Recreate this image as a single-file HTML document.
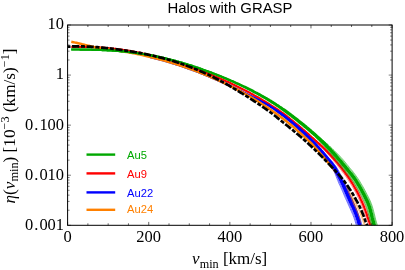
<!DOCTYPE html>
<html><head><meta charset="utf-8"><title>Halos with GRASP</title>
<style>html,body{margin:0;padding:0;background:#fff}svg{display:block}</style></head>
<body>
<svg width="405" height="270" viewBox="0 0 405 270">
<rect width="405" height="270" fill="#fff"/>
<defs><clipPath id="c"><rect x="67.6" y="25.0" width="324.5" height="200.3"/></clipPath></defs>
<g clip-path="url(#c)" fill="none" stroke-linejoin="round">
<path d="M332.6,168.0 L333.6,169.2 L334.6,170.4 L335.5,171.7 L336.4,173.0 L337.4,174.3 L338.3,175.6 L339.2,176.9 L340.0,178.4 L340.9,179.8 L341.7,181.2 L342.5,182.7 L343.3,184.2 L344.0,185.7 L344.8,187.2 L345.7,188.7 L346.6,190.2 L347.5,191.7 L348.3,193.3 L349.2,194.9 L350.0,196.5 L350.9,198.2 L351.7,199.8 L352.5,201.6 L353.3,203.4 L354.1,205.2 L354.8,207.1 L355.6,209.0 L356.3,210.9 L357.0,212.8 L357.7,214.9 L358.3,217.0 L358.9,219.1 L359.6,221.4 L360.3,224.0 L361.1,226.5 L362.0,229.0 L362.9,231.5 L363.8,234.1 L364.6,236.9" stroke="#ff8000" stroke-width="2.40"/>
<path d="M326.3,161.4 L327.3,162.5 L328.3,163.7 L329.2,164.9 L330.2,166.0 L331.2,167.2 L332.1,168.4 L333.1,169.6 L334.1,170.8 L335.1,172.0 L336.1,173.2 L337.1,174.5 L338.1,175.7 L339.1,177.0 L340.1,178.3 L341.0,179.6 L342.0,181.0 L343.0,182.3 L344.0,183.6 L345.0,185.0 L346.0,186.4 L347.0,187.8 L348.0,189.3 L348.9,190.8 L349.9,192.3 L350.9,193.9 L351.8,195.5 L352.7,197.1 L353.7,198.7 L354.6,200.4 L355.6,202.2 L356.5,203.9 L357.4,205.8 L358.3,207.6 L359.2,209.5 L360.1,211.5 L361.0,213.5 L361.8,215.6 L362.6,217.8 L363.4,220.1 L364.2,222.5 L365.2,224.9 L366.2,227.3 L367.2,229.8 L368.1,232.5 L369.1,235.3" stroke="#ff8000" stroke-width="0.50"/>
<path d="M326.3,161.5 L327.2,162.6 L328.1,163.8 L329.1,165.0 L330.0,166.2 L331.0,167.4 L331.9,168.6 L332.9,169.9 L333.8,171.1 L334.8,172.3 L335.7,173.6 L336.7,174.9 L337.6,176.2 L338.6,177.5 L339.5,178.8 L340.5,180.1 L341.4,181.5 L342.4,182.8 L343.4,184.1 L344.4,185.5 L345.4,186.8 L346.3,188.3 L347.3,189.7 L348.3,191.2 L349.2,192.7 L350.2,194.3 L351.1,195.9 L352.1,197.5 L353.0,199.1 L353.9,200.8 L354.9,202.5 L355.8,204.3 L356.7,206.1 L357.6,208.0 L358.5,209.9 L359.4,211.8 L360.2,213.8 L361.0,215.9 L361.8,218.1 L362.6,220.3 L363.4,222.8 L364.4,225.2 L365.4,227.6 L366.4,230.1 L367.4,232.8 L368.4,235.5" stroke="#ff8000" stroke-width="0.50"/>
<path d="M300.1,127.1 L301.1,127.9 L302.1,128.8 L303.0,129.7 L304.0,130.6 L305.0,131.4 L305.9,132.3 L306.9,133.2 L307.8,134.1 L308.8,135.1 L309.8,136.0 L310.7,136.9 L311.7,137.9 L312.7,138.8 L313.7,139.7 L314.7,140.7 L315.7,141.6 L316.7,142.6 L317.7,143.5 L318.7,144.5 L319.7,145.5 L320.7,146.5 L321.7,147.5 L322.7,148.5 L323.7,149.5 L324.6,150.6 L325.6,151.6 L326.6,152.7 L327.6,153.8 L328.6,154.9 L329.6,156.0 L330.6,157.1 L331.6,158.3 L332.6,159.4 L333.5,160.6 L334.5,161.8 L335.5,163.0 L336.5,164.2 L337.5,165.5 L338.5,166.8 L339.5,168.0 L340.5,169.3 L341.5,170.6 L342.5,172.0 L343.6,173.3 L344.6,174.7 L345.6,176.1 L346.6,177.6 L347.6,179.0 L348.6,180.6 L349.6,182.1 L350.6,183.7 L351.6,185.4 L352.6,187.0 L353.6,188.8 L354.6,190.6 L355.6,192.4 L356.6,194.3 L357.5,196.2 L358.5,198.3 L359.5,200.3 L360.5,202.5 L361.4,204.7 L362.4,207.1 L363.3,209.5 L364.2,212.1 L365.2,214.8 L366.1,217.6 L367.1,220.5 L368.1,223.7 L369.2,226.9 L370.2,230.5 L371.1,234.3" stroke="#ff0000" stroke-width="0.50"/>
<path d="M300.2,127.1 L301.2,127.9 L302.2,128.7 L303.2,129.5 L304.2,130.3 L305.2,131.1 L306.2,132.0 L307.3,132.8 L308.3,133.7 L309.3,134.5 L310.3,135.4 L311.3,136.3 L312.4,137.1 L313.4,138.0 L314.4,138.9 L315.5,139.8 L316.5,140.6 L317.6,141.5 L318.7,142.4 L319.7,143.4 L320.8,144.3 L321.8,145.2 L322.9,146.2 L324.0,147.1 L325.0,148.1 L326.1,149.1 L327.1,150.1 L328.2,151.2 L329.2,152.2 L330.3,153.3 L331.4,154.3 L332.4,155.4 L333.5,156.5 L334.6,157.6 L335.6,158.8 L336.7,159.9 L337.7,161.1 L338.8,162.3 L339.9,163.5 L340.9,164.8 L342.0,166.0 L343.0,167.3 L344.0,168.7 L345.1,170.0 L346.1,171.4 L347.2,172.8 L348.2,174.3 L349.3,175.7 L350.3,177.3 L351.3,178.8 L352.3,180.4 L353.4,182.0 L354.4,183.7 L355.4,185.4 L356.4,187.2 L357.4,189.0 L358.4,190.9 L359.4,192.8 L360.4,194.8 L361.4,196.9 L362.4,199.0 L363.4,201.2 L364.4,203.5 L365.4,205.9 L366.3,208.4 L367.2,211.0 L368.2,213.7 L369.2,216.6 L370.2,219.5 L371.2,222.7 L372.2,226.0 L373.2,229.6 L374.2,233.5" stroke="#ff0000" stroke-width="0.50"/>
<path d="M71.3,46.8 L72.3,46.8 L73.3,46.8 L74.3,46.8 L75.3,46.8 L76.3,46.7 L77.3,46.7 L78.3,46.8 L79.3,46.8 L80.3,46.8 L81.3,46.8 L82.3,46.8 L83.3,46.8 L84.3,46.8 L85.3,46.8 L86.3,46.9 L87.3,46.9 L88.3,46.9 L89.3,47.0 L90.3,47.0 L91.3,47.0 L92.3,47.1 L93.3,47.1 L94.3,47.2 L95.3,47.2 L96.3,47.3 L97.3,47.3 L98.3,47.4 L99.3,47.4 L100.3,47.5 L101.3,47.6 L102.3,47.7 L103.3,47.7 L104.3,47.8 L105.3,47.9 L106.3,48.0 L107.3,48.1 L108.3,48.2 L109.3,48.3 L110.3,48.4 L111.3,48.5 L112.3,48.6 L113.3,48.7 L114.3,48.8 L115.3,48.9 L116.3,49.0 L117.4,49.2 L118.4,49.3 L119.4,49.4 L120.4,49.6 L121.4,49.7 L122.4,49.8 L123.4,50.0 L124.4,50.1 L125.4,50.3 L126.4,50.4 L127.4,50.6 L128.4,50.8 L129.4,50.9 L130.4,51.1 L131.4,51.3 L132.4,51.4 L133.4,51.6 L134.4,51.8 L135.4,52.0 L136.4,52.2 L137.4,52.3 L138.4,52.5 L139.4,52.7 L140.4,52.9 L141.3,53.1 L142.3,53.3 L143.3,53.6 L144.3,53.8 L145.3,54.0 L146.3,54.2 L147.3,54.4 L148.3,54.7 L149.3,54.9 L150.3,55.1 L151.3,55.3 L152.3,55.6 L153.3,55.8 L154.3,56.1 L155.3,56.3 L156.3,56.6 L157.3,56.8 L158.3,57.1 L159.3,57.3 L160.3,57.6 L161.3,57.9 L162.3,58.1 L163.3,58.4 L164.3,58.7 L165.3,58.9 L166.3,59.2 L167.3,59.5 L168.3,59.8 L169.3,60.1 L170.3,60.4 L171.3,60.7 L172.2,61.0 L173.2,61.3 L174.2,61.6 L175.2,61.9 L176.2,62.2 L177.2,62.5 L178.2,62.8 L179.2,63.1 L180.2,63.4 L181.2,63.7 L182.2,64.1 L183.2,64.4 L184.2,64.7 L185.2,65.1 L186.2,65.4 L187.2,65.7 L188.2,66.1 L189.2,66.4 L190.2,66.8 L191.2,67.1 L192.2,67.5 L193.2,67.8 L194.2,68.2 L195.2,68.5 L196.2,68.9 L197.2,69.3 L198.2,69.6 L199.2,70.0 L200.2,70.4 L201.1,70.7 L202.1,71.1 L203.1,71.5 L204.1,71.9 L205.1,72.3 L206.1,72.7 L207.1,73.1 L208.1,73.5 L209.1,73.9 L210.1,74.3 L211.1,74.7 L212.1,75.1 L213.1,75.5 L214.1,75.9 L215.1,76.4 L216.1,76.8 L217.1,77.2 L218.1,77.6 L219.1,78.1 L220.1,78.5 L221.1,78.9 L222.2,79.4 L223.2,79.8 L224.2,80.3 L225.2,80.7 L226.2,81.2 L227.2,81.6 L228.2,82.1 L229.2,82.6 L230.2,83.0 L231.2,83.5 L232.2,84.0 L233.2,84.5 L234.2,84.9 L235.2,85.4 L236.2,85.9 L237.2,86.4 L238.2,86.9 L239.2,87.4 L240.2,87.9 L241.2,88.4 L242.2,88.9 L243.2,89.4 L244.3,90.0 L245.3,90.5 L246.3,91.0 L247.3,91.5 L248.3,92.1 L249.3,92.6 L250.3,93.1 L251.3,93.7 L252.3,94.2 L253.3,94.8 L254.3,95.4 L255.3,95.9 L256.3,96.5 L257.3,97.1 L258.4,97.6 L259.4,98.2 L260.4,98.8 L261.4,99.4 L262.4,100.0 L263.4,100.6 L264.4,101.2 L265.4,101.8 L266.4,102.4 L267.4,103.0 L268.4,103.7 L269.4,104.3 L270.4,104.9 L271.4,105.6 L272.4,106.2 L273.5,106.9 L274.5,107.5 L275.5,108.2 L276.5,108.8 L277.5,109.5 L278.5,110.2 L279.5,110.9 L280.5,111.6 L281.5,112.3 L282.5,113.0 L283.5,113.7 L284.5,114.4 L285.5,115.1 L286.5,115.9 L287.4,116.7 L288.4,117.5 L289.4,118.2 L290.3,119.0 L291.3,119.8 L292.3,120.6 L293.3,121.4 L294.2,122.2 L295.2,123.0 L296.2,123.8 L297.2,124.6 L298.2,125.4 L299.2,126.2 L300.2,127.1 L301.1,127.9 L302.1,128.7 L303.1,129.6 L304.1,130.4 L305.1,131.3 L306.1,132.2 L307.1,133.0 L308.1,133.9 L309.1,134.8 L310.0,135.7 L311.0,136.6 L312.0,137.5 L313.1,138.4 L314.1,139.3 L315.1,140.2 L316.1,141.1 L317.1,142.1 L318.2,143.0 L319.2,143.9 L320.2,144.9 L321.3,145.8 L322.3,146.8 L323.3,147.8 L324.3,148.8 L325.4,149.8 L326.4,150.9 L327.4,151.9 L328.4,153.0 L329.5,154.1 L330.5,155.2 L331.5,156.3 L332.5,157.4 L333.6,158.5 L334.6,159.7 L335.6,160.9 L336.6,162.1 L337.7,163.3 L338.7,164.5 L339.7,165.8 L340.7,167.0 L341.8,168.3 L342.8,169.7 L343.8,171.0 L344.9,172.4 L345.9,173.8 L346.9,175.2 L347.9,176.6 L349.0,178.1 L350.0,179.7 L351.0,181.3 L352.0,182.9 L353.0,184.5 L354.0,186.2 L355.0,188.0 L356.0,189.8 L357.0,191.6 L358.0,193.6 L359.0,195.5 L360.0,197.6 L360.9,199.7 L361.9,201.8 L362.9,204.1 L363.9,206.5 L364.8,209.0 L365.7,211.5 L366.7,214.2 L367.6,217.1 L368.6,220.0 L369.7,223.2 L370.7,226.5 L371.7,230.0 L372.7,233.9" stroke="#ff0000" stroke-width="2.20"/>
<path d="M318.5,147.2 L319.4,148.4 L320.2,149.6 L321.1,150.8 L322.0,152.1 L322.9,153.4 L323.8,154.7 L324.6,156.0 L325.5,157.3 L326.4,158.6 L327.4,160.0 L328.3,161.3 L329.2,162.7 L330.1,164.1 L331.0,165.5 L331.8,167.0 L332.7,168.5 L333.4,169.9 L334.1,171.5 L334.8,173.1 L335.5,174.8 L336.2,176.6 L336.9,178.4 L337.7,180.3 L338.4,182.1 L339.2,184.0 L340.1,185.8 L341.0,187.8 L341.9,189.8 L342.8,191.9 L343.7,194.0 L344.6,196.3 L345.6,198.5 L346.7,200.9 L347.8,203.4 L349.0,206.0 L350.2,208.7 L351.4,211.5 L352.7,214.4 L353.9,217.5 L355.0,220.8 L356.1,224.5 L357.2,228.4 L358.2,232.8 L359.1,237.8" stroke="#0000ff" stroke-width="0.55"/>
<path d="M318.5,147.1 L319.4,148.3 L320.3,149.5 L321.2,150.8 L322.1,152.0 L323.0,153.2 L324.0,154.5 L324.9,155.8 L325.8,157.1 L326.7,158.4 L327.7,159.7 L328.6,161.1 L329.6,162.4 L330.5,163.8 L331.4,165.2 L332.3,166.6 L333.2,168.1 L334.0,169.6 L334.8,171.1 L335.5,172.8 L336.2,174.5 L336.9,176.2 L337.7,178.0 L338.4,179.9 L339.2,181.7 L340.1,183.6 L340.9,185.5 L341.8,187.4 L342.7,189.4 L343.6,191.5 L344.5,193.7 L345.5,195.9 L346.5,198.2 L347.5,200.6 L348.6,203.1 L349.8,205.6 L351.0,208.3 L352.2,211.1 L353.5,214.1 L354.7,217.2 L355.9,220.6 L357.0,224.2 L358.0,228.2 L359.0,232.7 L360.0,237.6" stroke="#0000ff" stroke-width="0.55"/>
<path d="M318.6,147.1 L319.6,148.1 L320.7,149.2 L321.7,150.3 L322.8,151.4 L323.9,152.6 L324.9,153.7 L326.0,154.9 L327.0,156.0 L328.1,157.2 L329.2,158.4 L330.3,159.6 L331.5,160.9 L332.6,162.2 L333.7,163.5 L334.8,164.9 L335.9,166.3 L336.9,167.9 L337.9,169.5 L338.8,171.1 L339.7,172.8 L340.6,174.5 L341.5,176.2 L342.4,178.0 L343.3,179.8 L344.2,181.6 L345.1,183.6 L346.0,185.6 L346.9,187.6 L347.8,189.7 L348.7,191.9 L349.7,194.1 L350.7,196.4 L351.7,198.7 L352.8,201.2 L354.0,203.7 L355.2,206.4 L356.5,209.3 L357.7,212.3 L359.0,215.6 L360.3,219.1 L361.4,223.0 L362.5,227.2 L363.5,231.7 L364.5,236.7" stroke="#0000ff" stroke-width="0.55"/>
<path d="M150.4,57.0 L151.4,57.3 L152.4,57.5 L153.4,57.8 L154.4,58.0 L155.4,58.3 L156.4,58.5 L157.4,58.8 L158.4,59.1 L159.4,59.3 L160.4,59.6 L161.4,59.9 L162.4,60.1 L163.4,60.4 L164.4,60.7 L165.4,61.0 L166.3,61.2 L167.3,61.5 L168.3,61.8 L169.3,62.1 L170.3,62.4 L171.3,62.7 L172.3,63.0 L173.3,63.3 L174.3,63.6 L175.3,64.0 L176.3,64.3 L177.3,64.6 L178.3,64.9 L179.3,65.2 L180.2,65.6 L181.2,65.9 L182.2,66.2 L183.2,66.6 L184.2,66.9 L185.2,67.3 L186.2,67.6 L187.2,68.0 L188.2,68.3 L189.2,68.7 L190.2,69.0 L191.2,69.4 L192.1,69.7 L193.1,70.1 L194.1,70.5 L195.1,70.9 L196.1,71.2 L197.1,71.6 L198.1,72.0 L199.1,72.4 L200.1,72.8 L201.1,73.2 L202.1,73.5 L203.1,73.9 L204.1,74.3 L205.1,74.7 L206.1,75.2 L207.0,75.6 L208.0,76.0 L209.0,76.4 L210.0,76.8 L211.0,77.2 L212.0,77.7 L213.0,78.1 L214.0,78.5 L215.0,78.9 L216.0,79.4 L217.0,79.8 L218.0,80.3 L219.0,80.7 L220.0,81.1 L221.0,81.6 L222.0,82.1 L223.0,82.5 L224.0,83.0 L225.0,83.5 L226.0,83.9 L227.0,84.4 L228.0,84.9 L229.0,85.4 L230.0,85.9 L231.0,86.4 L232.1,86.9 L233.1,87.4 L234.1,87.9 L235.1,88.4 L236.1,88.9 L237.1,89.4 L238.1,89.9 L239.1,90.4 L240.1,90.8 L241.1,91.3 L242.1,91.8 L243.1,92.3 L244.1,92.8 L245.2,93.3 L246.2,93.8 L247.2,94.3 L248.2,94.8 L249.2,95.3 L250.2,95.8 L251.2,96.3 L252.2,96.8 L253.2,97.3 L254.3,97.8 L255.3,98.3 L256.3,98.9 L257.3,99.4 L258.3,99.9 L259.3,100.4 L260.3,100.9 L261.3,101.5 L262.4,102.0 L263.4,102.5 L264.4,103.1 L265.4,103.6 L266.4,104.2 L267.4,104.7 L268.4,105.3 L269.4,105.9 L270.4,106.6 L271.5,107.2 L272.5,107.9 L273.5,108.6 L274.5,109.3 L275.5,109.9 L276.5,110.6 L277.5,111.3 L278.5,112.0 L279.5,112.7 L280.6,113.4 L281.6,114.2 L282.6,114.9 L283.6,115.6 L284.6,116.4 L285.6,117.1 L286.6,117.9 L287.6,118.7 L288.6,119.4 L289.6,120.2 L290.6,121.0 L291.6,121.8 L292.6,122.6 L293.6,123.4 L294.6,124.3 L295.6,125.1 L296.6,125.9 L297.6,126.8 L298.6,127.7 L299.6,128.5 L300.6,129.4 L301.6,130.3 L302.6,131.2 L303.6,132.1 L304.6,133.0 L305.6,133.9 L306.6,134.9 L307.6,135.8 L308.6,136.8 L309.6,137.8 L310.6,138.8 L311.6,139.8 L312.6,140.8 L313.6,141.8 L314.6,142.8 L315.6,143.9 L316.6,144.9 L317.5,146.0 L318.5,147.1 L319.5,148.2 L320.5,149.3 L321.5,150.5 L322.5,151.6 L323.5,152.8 L324.5,154.0 L325.5,155.2 L326.6,156.5 L327.6,157.7 L328.6,158.9 L329.7,160.2 L330.7,161.5 L331.8,162.8 L332.8,164.2 L333.8,165.6 L334.8,167.0 L335.8,168.5 L336.7,170.1 L337.5,171.8 L338.3,173.4 L339.2,175.2 L340.0,176.9 L340.8,178.7 L341.7,180.5 L342.6,182.4 L343.5,184.3 L344.4,186.3 L345.2,188.3 L346.2,190.4 L347.1,192.6 L348.0,194.8 L349.0,197.1 L350.1,199.5 L351.2,201.9 L352.3,204.5 L353.6,207.2 L354.8,210.0 L356.1,213.0 L357.3,216.2 L358.6,219.7 L359.7,223.5 L360.8,227.6 L361.8,232.1 L362.8,237.0" stroke="#0000ff" stroke-width="2.40"/>
<path d="M275.5,109.9 L276.5,110.6 L277.5,111.3 L278.5,112.0 L279.5,112.7 L280.5,113.4 L281.5,114.2 L282.5,115.0 L283.5,115.7 L284.5,116.5 L285.5,117.3 L286.4,118.1 L287.4,118.9 L288.4,119.7 L289.4,120.5 L290.3,121.3 L291.3,122.2 L292.3,123.0 L293.3,123.8 L294.3,124.7 L295.2,125.5 L296.2,126.4 L297.2,127.3 L298.2,128.2 L299.1,129.1 L300.1,130.0 L301.1,130.9 L302.0,131.8 L303.0,132.7 L304.0,133.7 L304.9,134.6 L305.9,135.6 L306.9,136.6 L307.8,137.6 L308.8,138.6 L309.8,139.5 L310.8,140.5 L311.8,141.5 L312.8,142.6 L313.8,143.6 L314.8,144.6 L315.7,145.7 L316.7,146.8 L317.7,147.8 L318.7,148.9 L319.7,150.1 L320.7,151.2 L321.7,152.4 L322.7,153.5 L323.7,154.7 L324.7,155.9 L325.7,157.2 L326.7,158.4 L327.8,159.6 L328.8,160.9 L329.9,162.2 L330.9,163.5 L331.9,164.8 L332.9,166.2 L333.9,167.6 L334.8,169.1 L335.7,170.6 L336.5,172.2 L337.3,173.9 L338.2,175.6 L339.0,177.4 L339.9,179.2 L340.7,181.0 L341.6,182.9 L342.5,184.8 L343.3,186.7 L344.2,188.8 L345.1,190.9 L346.1,193.0 L347.0,195.2 L348.0,197.5 L349.0,199.9 L350.2,202.4 L351.3,204.9 L352.6,207.6 L353.8,210.4 L355.1,213.4 L356.3,216.6 L357.5,220.0 L358.6,223.8 L359.7,227.8 L360.7,232.3 L361.7,237.2" stroke="#0000ff" stroke-width="2.40"/>
<path d="M71.3,41.8 L72.3,42.0 L73.3,42.2 L74.3,42.4 L75.3,42.6 L76.3,42.8 L77.3,43.0 L78.3,43.3 L79.3,43.5 L80.3,43.7 L81.3,43.9 L82.3,44.2 L83.3,44.4 L84.3,44.6 L85.3,44.9 L86.3,45.1 L87.3,45.4 L88.3,45.6 L89.3,45.8 L90.3,46.1 L91.3,46.3 L92.3,46.6 L93.3,46.8 L94.3,47.1 L95.3,47.4 L96.3,47.6 L97.3,47.9 L98.3,48.0 L99.3,48.1 L100.3,48.2 L101.3,48.4 L102.3,48.5 L103.3,48.6 L104.3,48.7 L105.3,48.9 L106.3,49.0 L107.3,49.1 L108.3,49.3 L109.3,49.4 L110.3,49.5 L111.2,49.7 L112.2,49.8 L113.2,50.0 L114.2,50.1 L115.2,50.3 L116.2,50.4 L117.2,50.5 L118.2,50.7 L119.2,50.8 L120.2,51.0 L121.2,51.2 L122.2,51.3 L123.2,51.5 L124.2,51.6 L125.2,51.8 L126.2,52.0 L127.2,52.1 L128.2,52.3 L129.2,52.5 L130.2,52.7 L131.2,52.8 L132.2,53.0 L133.2,53.2 L134.2,53.4 L135.2,53.6 L136.2,53.8 L137.2,54.0 L138.2,54.2 L139.2,54.4 L140.2,54.6 L141.2,54.9 L142.2,55.1 L143.2,55.3 L144.2,55.6 L145.2,55.8 L146.2,56.0 L147.2,56.3 L148.2,56.5 L149.2,56.7 L150.2,57.0 L151.2,57.2 L152.2,57.5 L153.2,57.7 L154.2,58.0 L155.2,58.2 L156.2,58.5 L157.2,58.7 L158.2,59.0 L159.2,59.3 L160.2,59.5 L161.1,59.8 L162.1,60.1 L163.1,60.3 L164.1,60.6 L165.1,60.9 L166.1,61.2 L167.1,61.5 L168.1,61.8 L169.1,62.1 L170.1,62.4 L171.1,62.7 L172.1,63.0 L173.1,63.3 L174.1,63.6 L175.1,63.9 L176.1,64.2 L177.1,64.6 L178.1,64.9 L179.1,65.2 L180.1,65.5 L181.1,65.9 L182.1,66.2 L183.1,66.6 L184.1,66.9 L185.1,67.2 L186.1,67.6 L187.1,67.9 L188.1,68.3 L189.1,68.7 L190.1,69.0 L191.1,69.4 L192.2,69.7 L193.2,70.1 L194.2,70.5 L195.2,70.9 L196.2,71.2 L197.2,71.6 L198.2,72.0 L199.2,72.4 L200.2,72.8 L201.2,73.2 L202.2,73.6 L203.2,74.0 L204.2,74.4 L205.2,74.8 L206.2,75.2 L207.2,75.6 L208.2,76.0 L209.2,76.5 L210.2,76.9 L211.2,77.3 L212.2,77.7 L213.2,78.2 L214.2,78.6 L215.3,79.0 L216.3,79.5 L217.3,79.9 L218.3,80.4 L219.3,80.8 L220.3,81.3 L221.3,81.7 L222.3,82.2 L223.3,82.7 L224.3,83.1 L225.3,83.6 L226.4,84.1 L227.4,84.6 L228.4,85.1 L229.4,85.6 L230.4,86.0 L231.4,86.6 L232.4,87.1 L233.4,87.6 L234.4,88.1 L235.4,88.6 L236.4,89.1 L237.4,89.6 L238.4,90.2 L239.5,90.7 L240.5,91.3 L241.5,91.8 L242.5,92.4 L243.5,92.9 L244.5,93.5 L245.5,94.0 L246.5,94.6 L247.5,95.2 L248.5,95.7 L249.5,96.3 L250.5,96.9 L251.5,97.5 L252.5,98.1 L253.5,98.7 L254.5,99.3 L255.5,99.9 L256.5,100.5 L257.5,101.1 L258.5,101.8 L259.5,102.4 L260.5,103.0 L261.5,103.7 L262.5,104.3 L263.5,105.0 L264.5,105.6 L265.5,106.3 L266.5,106.9 L267.5,107.6 L268.5,108.3 L269.5,109.0 L270.5,109.6 L271.5,110.3 L272.5,111.0 L273.5,111.7 L274.5,112.4 L275.5,113.1 L276.5,113.8 L277.5,114.6 L278.5,115.3 L279.5,116.0 L280.5,116.8 L281.5,117.5 L282.5,118.3 L283.5,119.0 L284.4,119.8 L285.4,120.5 L286.4,121.3 L287.4,122.1 L288.4,122.9 L289.4,123.7 L290.4,124.5 L291.4,125.3 L292.4,126.1 L293.4,126.9 L294.4,127.7 L295.4,128.5 L297.7,130.8 L298.7,131.7 L299.7,132.5 L300.7,133.4 L301.7,134.3 L302.7,135.2 L303.7,136.1 L304.7,137.0 L305.7,138.0 L306.7,138.9 L307.7,139.8 L308.7,140.8 L309.7,141.7 L310.7,142.7 L311.7,143.6 L312.6,144.7 L313.6,145.7 L314.5,146.7 L315.4,147.8 L316.4,148.9 L317.3,149.9 L318.3,151.0 L319.2,152.1 L320.1,153.2 L321.1,154.3 L322.0,155.4 L323.0,156.5 L323.9,157.6 L324.8,158.7 L325.8,159.9 L326.8,161.0 L327.7,162.1 L328.7,163.3 L329.7,164.5 L330.6,165.6 L331.6,166.8 L332.6,168.0" stroke="#ff8000" stroke-width="2.40"/>
<path d="M300.4,122.6 L301.4,123.5 L302.3,124.3 L303.3,125.2 L304.2,126.1 L305.2,126.9 L306.1,127.8 L307.1,128.7 L308.1,129.6 L309.0,130.5 L310.0,131.5 L310.9,132.4 L311.9,133.3 L312.8,134.3 L313.8,135.2 L314.7,136.2 L315.7,137.1 L316.6,138.1 L317.6,139.1 L318.5,140.1 L319.5,141.1 L320.4,142.1 L321.4,143.1 L322.3,144.1 L323.3,145.1 L324.2,146.2 L325.2,147.2 L326.1,148.3 L327.1,149.4 L328.0,150.5 L328.9,151.6 L329.9,152.7 L330.8,153.8 L331.8,155.0 L332.7,156.1 L333.7,157.3 L334.6,158.4 L335.6,159.6 L336.5,160.8 L337.5,162.1 L338.5,163.3 L339.5,164.5 L340.5,165.7 L341.5,166.9 L342.5,168.2 L343.6,169.4 L344.6,170.7 L345.7,172.0 L346.8,173.4 L347.9,174.7 L348.9,176.0 L350.0,177.4 L351.0,178.8 L352.1,180.2 L353.1,181.7 L354.1,183.2 L355.0,184.8 L356.0,186.4 L357.0,188.1 L358.0,189.8 L359.0,191.6 L360.0,193.4 L361.0,195.3 L362.0,197.2 L363.0,199.2 L364.0,201.2 L364.9,203.3 L365.8,205.4 L366.6,207.6 L367.3,210.1 L368.0,212.6 L368.7,215.3 L369.4,218.2 L370.1,221.2 L371.0,224.2 L371.9,227.4 L372.8,230.8 L373.7,234.4" stroke="#00a800" stroke-width="0.55"/>
<path d="M300.4,122.6 L301.4,123.4 L302.4,124.3 L303.3,125.1 L304.3,126.0 L305.3,126.9 L306.2,127.7 L307.2,128.6 L308.2,129.5 L309.1,130.4 L310.1,131.3 L311.1,132.2 L312.0,133.1 L313.0,134.1 L314.0,135.0 L314.9,135.9 L315.9,136.9 L316.9,137.8 L317.8,138.8 L318.8,139.8 L319.8,140.8 L320.7,141.8 L321.7,142.8 L322.7,143.8 L323.6,144.8 L324.6,145.8 L325.5,146.9 L326.5,147.9 L327.5,149.0 L328.4,150.1 L329.4,151.2 L330.3,152.3 L331.3,153.4 L332.3,154.5 L333.2,155.6 L334.2,156.8 L335.2,158.0 L336.1,159.1 L337.1,160.3 L338.1,161.5 L339.1,162.7 L340.1,163.9 L341.1,165.2 L342.1,166.4 L343.2,167.7 L344.2,168.9 L345.3,170.2 L346.3,171.5 L347.4,172.8 L348.5,174.2 L349.6,175.5 L350.6,176.9 L351.7,178.3 L352.7,179.8 L353.7,181.2 L354.7,182.8 L355.7,184.4 L356.7,186.0 L357.7,187.7 L358.7,189.4 L359.7,191.2 L360.7,193.0 L361.7,194.9 L362.7,196.8 L363.7,198.8 L364.7,200.9 L365.7,202.9 L366.6,205.1 L367.3,207.4 L368.1,209.8 L368.8,212.4 L369.4,215.1 L370.1,218.0 L370.9,220.9 L371.7,224.0 L372.6,227.2 L373.5,230.6 L374.5,234.2" stroke="#00a800" stroke-width="0.55"/>
<path d="M300.5,122.6 L301.5,123.3 L302.5,124.1 L303.6,124.9 L304.6,125.6 L305.6,126.4 L306.7,127.2 L307.7,128.0 L308.7,128.8 L309.8,129.6 L310.8,130.5 L311.9,131.3 L312.9,132.1 L313.9,133.0 L315.0,133.8 L316.0,134.7 L317.1,135.6 L318.1,136.5 L319.2,137.4 L320.2,138.3 L321.3,139.2 L322.3,140.1 L323.3,141.1 L324.4,142.0 L325.4,143.0 L326.5,143.9 L327.5,144.9 L328.6,145.9 L329.6,146.9 L330.7,147.9 L331.7,149.0 L332.8,150.0 L333.8,151.1 L334.9,152.1 L335.9,153.2 L337.0,154.3 L338.0,155.4 L339.1,156.5 L340.2,157.7 L341.2,158.8 L342.3,160.0 L343.3,161.2 L344.3,162.5 L345.4,163.7 L346.4,165.0 L347.5,166.3 L348.5,167.6 L349.6,168.9 L350.7,170.2 L351.8,171.5 L352.9,172.9 L354.0,174.4 L355.1,175.8 L356.2,177.4 L357.2,178.9 L358.3,180.5 L359.3,182.2 L360.3,183.9 L361.3,185.6 L362.4,187.4 L363.4,189.2 L364.4,191.0 L365.4,193.0 L366.4,194.9 L367.4,197.0 L368.5,199.0 L369.5,201.3 L370.5,203.6 L371.3,206.1 L372.1,208.7 L372.8,211.4 L373.5,214.1 L374.2,216.9 L375.0,219.9 L375.8,222.9 L376.7,226.1 L377.6,229.5 L378.5,233.2" stroke="#00a800" stroke-width="0.55"/>
<path d="M300.5,122.6 L301.5,123.3 L302.6,124.0 L303.6,124.8 L304.6,125.6 L305.7,126.3 L306.7,127.1 L307.8,127.9 L308.9,128.7 L309.9,129.5 L311.0,130.3 L312.0,131.1 L313.1,132.0 L314.1,132.8 L315.2,133.6 L316.2,134.5 L317.3,135.3 L318.4,136.2 L319.4,137.1 L320.5,138.0 L321.5,138.9 L322.6,139.8 L323.7,140.7 L324.7,141.7 L325.8,142.6 L326.8,143.6 L327.9,144.5 L329.0,145.5 L330.0,146.5 L331.1,147.5 L332.2,148.5 L333.2,149.6 L334.3,150.6 L335.4,151.7 L336.4,152.7 L337.5,153.8 L338.6,154.9 L339.7,156.0 L340.7,157.2 L341.8,158.3 L342.9,159.5 L343.9,160.7 L345.0,162.0 L346.0,163.2 L347.0,164.5 L348.1,165.8 L349.1,167.1 L350.2,168.4 L351.3,169.7 L352.4,171.0 L353.5,172.4 L354.6,173.9 L355.7,175.4 L356.8,176.9 L357.9,178.5 L359.0,180.1 L360.0,181.8 L361.0,183.5 L362.0,185.2 L363.1,187.0 L364.1,188.8 L365.1,190.7 L366.1,192.6 L367.1,194.6 L368.2,196.6 L369.2,198.7 L370.2,200.9 L371.2,203.3 L372.1,205.9 L372.9,208.5 L373.6,211.2 L374.3,213.9 L375.0,216.8 L375.7,219.7 L376.6,222.7 L377.5,225.9 L378.4,229.3 L379.3,233.0" stroke="#00a800" stroke-width="0.55"/>
<path d="M71.3,49.4 L72.3,49.5 L73.3,49.5 L74.3,49.5 L75.3,49.5 L76.3,49.5 L77.3,49.5 L78.3,49.5 L79.3,49.5 L80.3,49.6 L81.3,49.6 L82.3,49.6 L83.3,49.6 L84.3,49.6 L85.3,49.6 L86.3,49.6 L87.3,49.7 L88.3,49.7 L89.3,49.7 L90.3,49.7 L91.3,49.7 L92.3,49.8 L93.3,49.8 L94.3,49.8 L95.3,49.8 L96.3,49.9 L97.3,49.9 L98.3,49.9 L99.3,49.9 L100.3,50.0 L101.3,50.0 L102.3,50.1 L103.3,50.1 L104.3,50.1 L105.3,50.2 L106.3,50.2 L107.3,50.3 L108.3,50.3 L109.3,50.4 L110.3,50.4 L111.3,50.5 L112.3,50.6 L113.3,50.6 L114.3,50.7 L115.3,50.8 L116.3,50.8 L117.3,50.9 L118.3,51.0 L119.3,51.1 L120.3,51.2 L121.3,51.3 L122.3,51.4 L123.3,51.4 L124.3,51.5 L125.3,51.6 L126.3,51.7 L127.3,51.9 L128.4,52.0 L129.4,52.1 L130.4,52.2 L131.4,52.3 L132.4,52.4 L133.4,52.6 L134.4,52.7 L135.4,52.8 L136.4,53.0 L137.4,53.1 L138.4,53.3 L139.4,53.4 L140.4,53.6 L141.4,53.7 L142.4,53.9 L143.4,54.0 L144.4,54.2 L145.4,54.4 L146.4,54.5 L147.4,54.7 L148.4,54.9 L149.4,55.1 L150.4,55.2 L151.4,55.4 L152.4,55.6 L153.4,55.8 L154.4,56.0 L155.4,56.2 L156.4,56.4 L157.4,56.6 L158.4,56.8 L159.4,57.1 L160.4,57.3 L161.4,57.5 L162.4,57.7 L163.4,57.9 L164.4,58.2 L165.4,58.4 L166.4,58.6 L167.4,58.9 L168.4,59.1 L169.4,59.4 L170.3,59.6 L171.3,59.9 L172.3,60.1 L173.3,60.4 L174.3,60.7 L175.3,60.9 L176.3,61.2 L177.3,61.5 L178.3,61.7 L179.3,62.0 L180.3,62.3 L181.3,62.6 L182.3,62.9 L183.3,63.2 L184.3,63.5 L185.3,63.8 L186.3,64.1 L187.3,64.4 L188.3,64.7 L189.3,65.0 L190.3,65.3 L191.3,65.6 L192.3,65.9 L193.3,66.3 L194.2,66.6 L195.2,66.9 L196.2,67.3 L197.2,67.6 L198.2,67.9 L199.2,68.3 L200.2,68.6 L201.2,69.0 L202.2,69.3 L203.2,69.7 L204.2,70.0 L205.2,70.4 L206.2,70.8 L207.2,71.1 L208.2,71.5 L209.2,71.9 L210.2,72.2 L211.2,72.6 L212.2,73.0 L213.2,73.4 L214.2,73.8 L215.2,74.2 L216.2,74.6 L217.2,75.0 L218.2,75.4 L219.2,75.8 L220.2,76.2 L221.2,76.6 L222.2,77.0 L223.1,77.4 L224.1,77.9 L225.1,78.3 L226.1,78.7 L227.1,79.1 L228.1,79.6 L229.1,80.0 L230.2,80.5 L231.2,80.9 L232.2,81.3 L233.2,81.8 L234.2,82.3 L235.2,82.7 L236.2,83.2 L237.2,83.7 L238.2,84.1 L239.2,84.6 L240.2,85.1 L241.2,85.6 L242.2,86.1 L243.2,86.5 L244.2,87.0 L245.2,87.5 L246.2,88.0 L247.2,88.6 L248.2,89.1 L249.2,89.6 L250.2,90.1 L251.2,90.6 L252.2,91.1 L253.2,91.7 L254.2,92.2 L255.3,92.7 L256.3,93.3 L257.3,93.8 L258.3,94.4 L259.3,94.9 L260.3,95.5 L261.3,96.1 L262.3,96.7 L263.3,97.2 L264.3,97.8 L265.3,98.4 L266.3,99.0 L267.3,99.6 L268.3,100.2 L269.3,100.9 L270.3,101.5 L271.3,102.1 L272.3,102.8 L273.3,103.4 L274.3,104.0 L275.3,104.7 L276.3,105.4 L277.3,106.0 L278.3,106.7 L279.3,107.4 L280.3,108.1 L281.3,108.8 L282.3,109.5 L283.3,110.2 L284.2,110.9 L285.2,111.6 L286.2,112.3 L287.2,113.0 L288.2,113.8 L289.2,114.5 L290.2,115.3 L291.1,116.0 L292.1,116.8 L293.1,117.6 L294.1,118.3 L295.1,119.1 L296.1,119.9 L297.1,120.7 L298.0,121.5 L299.0,122.3 L300.0,123.1 L301.0,123.9 L302.0,124.7 L303.0,125.5 L304.0,126.3 L305.0,127.1 L306.0,128.0 L307.0,128.8 L308.0,129.7 L309.0,130.5 L310.0,131.4 L311.0,132.2 L312.0,133.1 L313.0,134.0 L314.1,134.9 L315.1,135.8 L316.1,136.7 L317.1,137.6 L318.1,138.6 L319.1,139.5 L320.1,140.4 L321.1,141.4 L322.1,142.4 L323.1,143.4 L324.1,144.3 L325.1,145.3 L326.1,146.4 L327.1,147.4 L328.1,148.4 L329.1,149.5 L330.1,150.5 L331.1,151.6 L332.1,152.7 L333.1,153.8 L334.1,154.9 L335.1,156.0 L336.1,157.1 L337.1,158.3 L338.1,159.4 L339.2,160.6 L340.2,161.8 L341.2,163.0 L342.2,164.2 L343.3,165.5 L344.3,166.7 L345.3,168.0 L346.4,169.3 L347.4,170.6 L348.5,171.9 L349.6,173.3 L350.7,174.6 L351.8,176.0 L352.9,177.5 L353.9,178.9 L355.0,180.4 L356.0,182.0 L357.0,183.6 L358.0,185.3 L359.0,187.0 L360.0,188.7 L361.0,190.5 L362.0,192.4 L363.0,194.2 L364.0,196.2 L365.0,198.2 L366.0,200.2 L367.0,202.4 L367.9,204.6 L368.7,207.0 L369.5,209.4 L370.2,212.1 L370.8,214.8 L371.5,217.6 L372.3,220.6 L373.1,223.6 L374.0,226.8 L375.0,230.2 L375.9,233.9" stroke="#00a800" stroke-width="2.20"/>
<path d="M71.3,49.4 L72.3,49.5 L73.3,49.5 L74.3,49.5 L75.3,49.5 L76.3,49.5 L77.3,49.5 L78.3,49.5 L79.3,49.5 L80.3,49.6 L81.3,49.6 L82.3,49.6 L83.3,49.6 L84.3,49.6 L85.3,49.6 L86.3,49.6 L87.3,49.7 L88.3,49.7 L89.3,49.7 L90.3,49.7 L91.3,49.7 L92.3,49.8 L93.3,49.8 L94.3,49.8 L95.3,49.8 L96.3,49.9 L97.3,49.9 L98.3,49.9 L99.3,49.9 L100.3,50.0 L101.3,50.0 L102.3,50.1 L103.3,50.1 L104.3,50.1 L105.3,50.2 L106.3,50.2 L107.3,50.3 L108.3,50.3 L109.3,50.4 L110.3,50.4 L111.3,50.5 L112.3,50.6 L113.3,50.6 L114.3,50.7 L115.3,50.8 L116.3,50.8 L117.3,50.9 L118.3,51.0 L119.3,51.1 L120.3,51.2 L121.3,51.3 L122.3,51.4 L123.3,51.4 L124.3,51.5 L125.3,51.6 L126.3,51.7 L127.3,51.9 L128.4,52.0 L129.4,52.1 L130.4,52.2 L131.4,52.3 L132.4,52.4 L133.4,52.6 L134.4,52.7 L135.4,52.8 L136.4,53.0 L137.4,53.1 L138.4,53.3 L139.4,53.4 L140.4,53.6 L141.4,53.7 L142.4,53.9 L143.4,54.0 L144.4,54.2 L145.4,54.4 L146.4,54.5 L147.4,54.7 L148.4,54.9 L149.4,55.1 L150.4,55.2 L151.4,55.4 L152.4,55.6 L153.4,55.8 L154.4,56.0 L155.4,56.2 L156.4,56.4 L157.4,56.6 L158.4,56.8 L159.4,57.1 L160.4,57.3 L161.4,57.5 L162.4,57.7 L163.4,57.9 L164.4,58.2 L165.4,58.4 L166.4,58.6 L167.4,58.9 L168.4,59.1 L169.4,59.4 L170.3,59.6 L171.3,59.9 L172.3,60.1 L173.3,60.4 L174.3,60.7 L175.3,60.9 L176.3,61.2 L177.3,61.5 L178.3,61.7 L179.3,62.0 L180.3,62.3 L181.3,62.6 L182.3,62.9 L183.3,63.2 L184.3,63.5 L185.3,63.8 L186.3,64.1 L187.3,64.4 L188.3,64.7 L189.3,65.0 L190.3,65.3 L191.3,65.6 L192.3,65.9 L193.3,66.3 L194.2,66.6 L195.2,66.9 L196.2,67.3 L197.2,67.6 L198.2,67.9 L199.2,68.3 L200.2,68.6 L201.2,69.0 L202.2,69.3 L203.2,69.7 L204.2,70.0 L205.2,70.4 L206.2,70.8 L207.2,71.1 L208.2,71.5 L209.2,71.9 L210.2,72.2 L211.2,72.6 L212.2,73.0 L213.2,73.4 L214.2,73.8 L215.2,74.2 L216.2,74.6 L217.2,74.9 L218.2,75.3 L219.2,75.7 L220.2,76.1 L221.2,76.5 L222.2,76.9 L223.2,77.3 L224.2,77.7 L225.2,78.1 L226.2,78.5 L227.2,79.0 L228.2,79.4 L229.2,79.8 L230.2,80.2 L231.3,80.7 L232.3,81.1 L233.3,81.5 L234.3,82.0 L235.3,82.4 L236.3,82.9 L237.3,83.3 L238.3,83.8 L239.3,84.3 L240.3,84.7 L241.3,85.2 L242.4,85.7 L243.4,86.2 L244.4,86.6 L245.4,87.1 L246.4,87.6 L247.4,88.1 L248.4,88.6 L249.4,89.1 L250.5,89.6 L251.5,90.1 L252.5,90.6 L253.5,91.1 L254.5,91.7 L255.5,92.2 L256.6,92.7 L257.6,93.3 L258.6,93.8 L259.6,94.3 L260.6,94.9 L261.6,95.5 L262.7,96.0 L263.7,96.6 L264.7,97.2 L265.7,97.8 L266.7,98.3 L267.7,98.9 L268.7,99.5 L269.8,100.2 L270.8,100.8 L271.8,101.4 L272.8,102.0 L273.8,102.6 L274.8,103.3 L275.8,103.9 L276.8,104.6 L277.8,105.2 L278.8,105.9 L279.8,106.6 L280.8,107.2 L281.8,107.9 L282.8,108.6 L283.9,109.3 L284.9,110.0 L285.9,110.7 L286.9,111.4 L287.9,112.1 L288.9,112.9 L289.9,113.6 L290.9,114.3 L291.9,115.1 L292.9,115.8 L293.8,116.6 L294.8,117.4 L295.8,118.1 L296.8,118.9 L297.8,119.7 L298.8,120.5 L299.8,121.3 L300.8,122.1 L301.8,122.9 L302.8,123.7 L303.9,124.5 L304.9,125.3 L305.9,126.1 L306.9,127.0 L307.9,127.8 L308.9,128.7 L309.9,129.5 L310.9,130.4 L311.9,131.3 L312.9,132.1 L313.9,133.0 L314.9,133.9 L315.9,134.8 L316.9,135.8 L317.9,136.7 L318.9,137.6 L320.0,138.6 L321.0,139.5 L322.0,140.5 L323.0,141.4 L324.0,142.4 L325.0,143.4 L326.0,144.4 L327.0,145.4 L328.0,146.5 L329.0,147.5 L330.0,148.6 L331.0,149.6 L332.0,150.7 L333.0,151.8 L334.1,152.9 L335.1,154.0 L336.1,155.1 L337.1,156.3 L338.1,157.4 L339.1,158.6 L340.1,159.8 L341.2,161.0 L342.2,162.2 L343.2,163.4 L344.3,164.6 L345.3,165.9 L346.3,167.2 L347.4,168.5 L348.5,169.8 L349.5,171.1 L350.6,172.5 L351.7,173.8 L352.8,175.2 L353.9,176.7 L355.0,178.2 L356.0,179.7 L357.1,181.3 L358.1,183.0 L359.1,184.6 L360.1,186.3 L361.1,188.1 L362.1,189.9 L363.1,191.7 L364.1,193.6 L365.1,195.6 L366.1,197.6 L367.2,199.7 L368.2,201.8 L369.1,204.1 L370.0,206.6 L370.7,209.1 L371.4,211.7 L372.1,214.5 L372.8,217.3 L373.6,220.2 L374.4,223.3 L375.3,226.5 L376.2,229.9 L377.1,233.5" stroke="#00a800" stroke-width="2.20"/>
<path d="M67.6,46.7 L68.6,46.6 L69.6,46.6 L70.6,46.5 L71.6,46.5 L72.6,46.4 L73.6,46.4 L74.6,46.4 L75.6,46.4 L76.6,46.4 L77.6,46.4 L78.6,46.4 L79.6,46.4 L80.6,46.4 L81.6,46.4 L82.6,46.4 L83.6,46.4 L84.6,46.5 L85.6,46.5 L86.6,46.5 L87.6,46.6 L88.6,46.6 L89.6,46.7 L90.6,46.7 L91.6,46.8 L92.6,46.9 L93.6,46.9 L94.6,47.0 L95.6,47.1 L96.6,47.2 L97.6,47.2 L98.6,47.3 L99.6,47.4 L100.6,47.5 L101.6,47.6 L102.6,47.7 L103.6,47.8 L104.6,47.9 L105.6,48.0 L106.6,48.1 L107.6,48.2 L108.6,48.3 L109.6,48.4 L110.6,48.5 L111.6,48.6 L112.6,48.8 L113.6,48.9 L114.6,49.0 L115.6,49.1 L116.6,49.3 L117.6,49.4 L118.6,49.5 L119.6,49.7 L120.6,49.8 L121.6,50.0 L122.6,50.1 L123.6,50.3 L124.6,50.4 L125.6,50.6 L126.6,50.7 L127.6,50.9 L128.6,51.0 L129.6,51.2 L130.6,51.3 L131.6,51.5 L132.6,51.7 L133.6,51.8 L134.6,52.0 L135.6,52.2 L136.6,52.4 L137.6,52.6 L138.7,52.8 L139.7,52.9 L140.7,53.1 L141.7,53.3 L142.7,53.5 L143.7,53.7 L144.7,53.9 L145.7,54.1 L146.7,54.3 L147.7,54.6 L148.7,54.8 L149.7,55.0 L150.7,55.2 L151.7,55.4 L152.7,55.7 L153.8,55.9 L154.8,56.1 L155.8,56.4 L156.8,56.6 L157.8,56.9 L158.8,57.1 L159.8,57.4 L160.8,57.6 L161.8,57.9 L162.8,58.1 L163.8,58.4 L164.8,58.7 L165.9,59.0 L166.9,59.2 L167.9,59.5 L168.9,59.8 L169.9,60.1 L170.9,60.4 L171.9,60.7 L172.9,61.0 L173.9,61.3 L174.9,61.6 L175.9,61.9 L176.9,62.3 L178.0,62.6 L179.0,62.9 L180.0,63.3 L181.0,63.6 L182.0,64.0 L183.0,64.3 L184.0,64.7 L185.0,65.0 L186.0,65.4 L187.0,65.8 L188.0,66.2 L189.0,66.5 L190.0,66.9 L191.0,67.3 L192.0,67.7 L193.0,68.1 L194.0,68.5 L195.0,68.9 L196.0,69.3 L197.0,69.7 L198.0,70.1 L199.0,70.5 L200.0,71.0 L201.0,71.4 L202.0,71.8 L203.0,72.3 L204.0,72.7 L205.0,73.2 L206.0,73.6 L207.0,74.1 L208.0,74.6 L209.0,75.0 L210.0,75.5 L211.0,76.0 L212.0,76.5 L213.0,77.0 L214.0,77.5 L214.9,78.0 L215.9,78.5 L216.9,79.0 L217.9,79.5 L218.9,80.0 L219.9,80.5 L220.9,81.1 L221.9,81.6 L222.8,82.1 L223.8,82.7 L224.8,83.2 L225.8,83.8 L226.8,84.3 L227.8,84.9 L228.8,85.4 L229.7,86.0 L230.7,86.6 L231.7,87.2 L232.7,87.8 L233.7,88.4 L234.6,88.9 L235.6,89.5 L236.6,90.1 L237.6,90.7 L238.6,91.3 L239.5,91.9 L240.5,92.5 L241.5,93.1 L242.5,93.7 L243.5,94.3 L244.5,95.0 L245.5,95.6 L246.5,96.2 L247.5,96.8 L248.5,97.4 L249.5,98.1 L250.4,98.7 L251.4,99.3 L252.4,100.0 L253.4,100.6 L254.4,101.3 L255.4,101.9 L256.4,102.6 L257.4,103.2 L258.4,103.9 L259.4,104.6 L260.4,105.2 L261.4,105.9 L262.4,106.6 L263.4,107.3 L264.4,108.0 L265.3,108.7 L266.3,109.4 L267.3,110.1 L268.3,110.8 L269.3,111.5 L270.3,112.2 L271.3,113.0 L272.3,113.7 L273.2,114.5 L274.2,115.2 L275.2,116.0 L276.2,116.8 L277.1,117.6 L278.1,118.4 L279.1,119.2 L280.0,119.9 L281.0,120.7 L282.0,121.5 L283.0,122.3 L284.0,123.1 L285.0,123.9 L286.0,124.7 L287.0,125.5 L288.0,126.3 L289.0,127.1 L290.0,127.9 L291.0,128.7 L292.0,129.5 L293.0,130.3 L294.0,131.2 L295.0,132.0 L296.0,132.8 L297.0,133.7 L298.0,134.5 L299.1,135.4 L300.1,136.3 L301.1,137.1 L302.1,138.0 L303.1,138.9 L304.1,139.8 L305.1,140.7 L306.1,141.6 L307.1,142.5 L308.1,143.4 L309.1,144.4 L310.1,145.3 L311.1,146.2 L312.2,147.2 L313.2,148.2 L314.2,149.1 L315.2,150.1 L316.2,151.1 L317.2,152.1 L318.2,153.0 L319.3,154.1 L320.3,155.1 L321.3,156.1 L322.3,157.1 L323.3,158.1 L324.4,159.2 L325.4,160.3 L326.4,161.3 L327.4,162.4 L328.5,163.5 L329.5,164.6 L330.5,165.7 L331.6,166.8 L332.6,167.9 L333.7,169.1 L334.8,170.2 L335.8,171.4 L336.9,172.5 L338.0,173.7 L339.1,174.9 L340.1,176.1 L341.2,177.4 L342.2,178.7 L343.3,180.0 L344.3,181.3 L345.3,182.7 L346.3,184.1 L347.3,185.5 L348.3,186.9 L349.3,188.4 L350.3,189.9 L351.3,191.5 L352.2,193.0 L353.2,194.6 L354.1,196.3 L355.1,198.0 L356.0,199.7 L357.0,201.4 L357.9,203.2 L358.8,205.0 L359.8,206.9 L360.7,208.9 L361.6,210.9 L362.4,212.9 L363.3,215.1 L364.1,217.3 L364.9,219.6 L365.7,221.9 L366.7,224.3 L367.7,226.7 L368.6,229.3 L369.6,231.9 L370.6,234.7" stroke="#000" stroke-width="2.70" stroke-dasharray="7.2 1.6 4.1 1.6" stroke-dashoffset="10.0"/>
</g>
<g stroke="#000" fill="none">
<rect x="67.6" y="25.0" width="324.5" height="200.3" stroke-width="1"/>
<path d="M67.60,225.3v-3.4M67.60,25.0v3.4M87.88,225.3v-2.0M87.88,25.0v2.0M108.16,225.3v-2.0M108.16,25.0v2.0M128.44,225.3v-2.0M128.44,25.0v2.0M148.72,225.3v-3.4M148.72,25.0v3.4M169.01,225.3v-2.0M169.01,25.0v2.0M189.29,225.3v-2.0M189.29,25.0v2.0M209.57,225.3v-2.0M209.57,25.0v2.0M229.85,225.3v-3.4M229.85,25.0v3.4M250.13,225.3v-2.0M250.13,25.0v2.0M270.41,225.3v-2.0M270.41,25.0v2.0M290.69,225.3v-2.0M290.69,25.0v2.0M310.98,225.3v-3.4M310.98,25.0v3.4M331.26,225.3v-2.0M331.26,25.0v2.0M351.54,225.3v-2.0M351.54,25.0v2.0M371.82,225.3v-2.0M371.82,25.0v2.0M392.10,225.3v-3.4M392.10,25.0v3.4" stroke-width="0.6"/>
<path d="M67.6,225.30h3.4M392.1,225.30h-3.4M67.6,210.23h2.0M392.1,210.23h-2.0M67.6,201.41h2.0M392.1,201.41h-2.0M67.6,195.15h2.0M392.1,195.15h-2.0M67.6,190.30h2.0M392.1,190.30h-2.0M67.6,186.33h2.0M392.1,186.33h-2.0M67.6,182.98h2.0M392.1,182.98h-2.0M67.6,180.08h2.0M392.1,180.08h-2.0M67.6,177.52h2.0M392.1,177.52h-2.0M67.6,175.23h3.4M392.1,175.23h-3.4M67.6,160.15h2.0M392.1,160.15h-2.0M67.6,151.33h2.0M392.1,151.33h-2.0M67.6,145.08h2.0M392.1,145.08h-2.0M67.6,140.22h2.0M392.1,140.22h-2.0M67.6,136.26h2.0M392.1,136.26h-2.0M67.6,132.91h2.0M392.1,132.91h-2.0M67.6,130.00h2.0M392.1,130.00h-2.0M67.6,127.44h2.0M392.1,127.44h-2.0M67.6,125.15h3.4M392.1,125.15h-3.4M67.6,110.08h2.0M392.1,110.08h-2.0M67.6,101.26h2.0M392.1,101.26h-2.0M67.6,95.00h2.0M392.1,95.00h-2.0M67.6,90.15h2.0M392.1,90.15h-2.0M67.6,86.18h2.0M392.1,86.18h-2.0M67.6,82.83h2.0M392.1,82.83h-2.0M67.6,79.93h2.0M392.1,79.93h-2.0M67.6,77.37h2.0M392.1,77.37h-2.0M67.6,75.08h3.4M392.1,75.08h-3.4M67.6,60.00h2.0M392.1,60.00h-2.0M67.6,51.18h2.0M392.1,51.18h-2.0M67.6,44.93h2.0M392.1,44.93h-2.0M67.6,40.07h2.0M392.1,40.07h-2.0M67.6,36.11h2.0M392.1,36.11h-2.0M67.6,32.76h2.0M392.1,32.76h-2.0M67.6,29.85h2.0M392.1,29.85h-2.0M67.6,27.29h2.0M392.1,27.29h-2.0M67.6,25.00h3.4M392.1,25.00h-3.4" stroke-width="0.5"/>
</g>
<g font-family="'Liberation Serif', serif" font-size="17" fill="#000">
<text transform="translate(67.5,242.3) scale(0.97,1)" text-anchor="middle">0</text>
<text transform="translate(148.6,242.3) scale(0.97,1)" text-anchor="middle">200</text>
<text transform="translate(229.8,242.3) scale(0.97,1)" text-anchor="middle">400</text>
<text transform="translate(310.9,242.3) scale(0.97,1)" text-anchor="middle">600</text>
<text transform="translate(392.0,242.3) scale(0.97,1)" text-anchor="middle">800</text>
<text transform="translate(64.1,28.8) scale(0.97,1)" text-anchor="end">10</text>
<text transform="translate(64.1,78.9) scale(0.97,1)" text-anchor="end">1</text>
<text transform="translate(64.1,129.8) scale(0.97,1)" text-anchor="end">0<tspan dx="1.1">.</tspan><tspan dx="1.0">100</tspan></text>
<text transform="translate(64.1,179.8) scale(0.97,1)" text-anchor="end">0<tspan dx="1.1">.</tspan><tspan dx="1.0">010</tspan></text>
<text transform="translate(64.1,229.9) scale(0.97,1)" text-anchor="end">0<tspan dx="1.1">.</tspan><tspan dx="1.0">001</tspan></text>
</g>
<g font-family="'Liberation Serif', serif" font-size="17" fill="#000">
<text x="229.7" y="264.4" text-anchor="middle"><tspan font-style="italic">v</tspan><tspan font-size="12.2" dy="3.2">min</tspan><tspan dy="-3.2"> [km/s]</tspan></text>
<text font-size="17.2" transform="translate(15,203.5) rotate(-90)"><tspan font-style="italic">η</tspan>(<tspan font-style="italic">v</tspan><tspan font-size="12.3" dy="3.2">min</tspan><tspan dy="-3.2">) [10</tspan><tspan font-size="12.3" dy="-6.4">−3</tspan><tspan dy="6.4"> (km/s)</tspan><tspan font-size="12.3" dy="-6.4">−1</tspan><tspan dy="6.4">]</tspan></text>
</g>
<text x="230" y="13" text-anchor="middle" font-family="'Liberation Sans', sans-serif" font-size="14.9" fill="#000">Halos with GRASP</text>
<g font-family="'Liberation Sans', sans-serif" font-size="11.2">
<path d="M86.5,154.6H115.2" stroke="#00a800" stroke-width="2.4"/>
<text x="127" y="159.1" fill="#00a800">Au5</text>
<path d="M86.5,173.4H115.2" stroke="#ff0000" stroke-width="2.4"/>
<text x="127" y="177.5" fill="#ff0000">Au9</text>
<path d="M86.5,192.4H115.2" stroke="#0000ff" stroke-width="2.4"/>
<text x="127" y="196.5" fill="#0000ff">Au22</text>
<path d="M86.5,209.8H115.2" stroke="#ff8000" stroke-width="2.4"/>
<text x="127" y="213.1" fill="#ff8000">Au24</text>
</g>
</svg>
</body></html>
